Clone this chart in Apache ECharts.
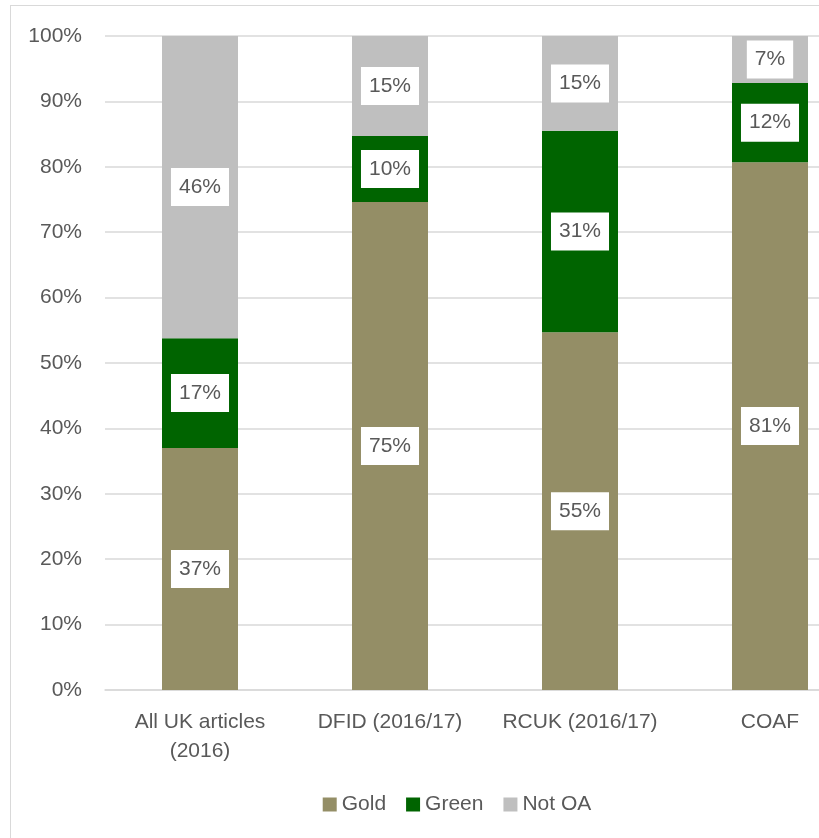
<!DOCTYPE html>
<html>
<head>
<meta charset="utf-8">
<script src="https://cdn.jsdelivr.net/npm/echarts@6/dist/echarts.min.js"></script>
<style>
  html, body {
    margin: 0;
    padding: 0;
    width: 819px;
    height: 838px;
    overflow: hidden;
    background: #fff;
  }
  .chartFrame {
    position: absolute;
    left: 10px;
    top: 5px;
    width: 892px;
    height: 900px;
    border: 1px solid #d9d9d9;
  }
  #chart {
    width: 892px;
    height: 900px;
  }
</style>
</head>
<body>
<div class="chartFrame">
  <div id="chart"></div>
</div>
<script>
// categories and shares (percent of articles)
var categories = ["All UK articles\n(2016)", "DFID (2016/17)", "RCUK (2016/17)", "COAF"];
var goldValues = [37.0, 74.6, 54.7, 80.7];
var greenValues = [16.8, 10.1, 30.8, 12.1];
var notOaValues = [46.2, 15.3, 14.5, 7.2];

var textColor = "#595959";
var fontName = "Liberation Sans";

function segLabel() {
  return {
    show: true,
    position: "inside",
    formatter: function (p) {
      return Math.round(p.value) + "%";
    },
    color: textColor,
    fontFamily: fontName,
    fontSize: 21,
    lineHeight: 22,
    backgroundColor: "#fff",
    padding: [8, 8]
  };
}

function makeSeries(name, values, color) {
  return {
    name: name,
    type: "bar",
    stack: "total",
    barWidth: 76,
    data: values,
    itemStyle: { color: color },
    label: segLabel()
  };
}

var chart = echarts.init(document.getElementById("chart"));
chart.setOption({
  animation: false,
  grid: {
    left: 94,
    top: 30,
    width: 760,
    height: 654
  },
  legend: {
    data: ["Gold", "Green", "Not OA"],
    left: "center",
    top: 788,
    padding: 0,
    itemWidth: 14,
    itemHeight: 14,
    itemGap: 20,
    icon: "rect",
    textStyle: { color: textColor, fontFamily: fontName, fontSize: 21 }
  },
  xAxis: {
    type: "category",
    data: categories,
    axisLine: { lineStyle: { color: "#d9d9d9", width: 1.5 } },
    axisTick: { show: false },
    axisLabel: {
      color: textColor,
      fontFamily: fontName,
      fontSize: 21,
      lineHeight: 29,
      margin: 18,
      interval: 0
    }
  },
  yAxis: {
    type: "value",
    min: 0,
    max: 100,
    interval: 10,
    axisLine: { show: false },
    axisTick: { show: false },
    splitLine: { lineStyle: { color: "#d9d9d9", width: 1.5 } },
    axisLabel: {
      formatter: "{value}%",
      color: textColor,
      fontFamily: fontName,
      fontSize: 21,
      margin: 23
    }
  },
  series: [
    makeSeries("Gold", goldValues, "#948e66"),
    makeSeries("Green", greenValues, "#006400"),
    makeSeries("Not OA", notOaValues, "#bfbfbf")
  ]
});
</script>
</body>
</html>
